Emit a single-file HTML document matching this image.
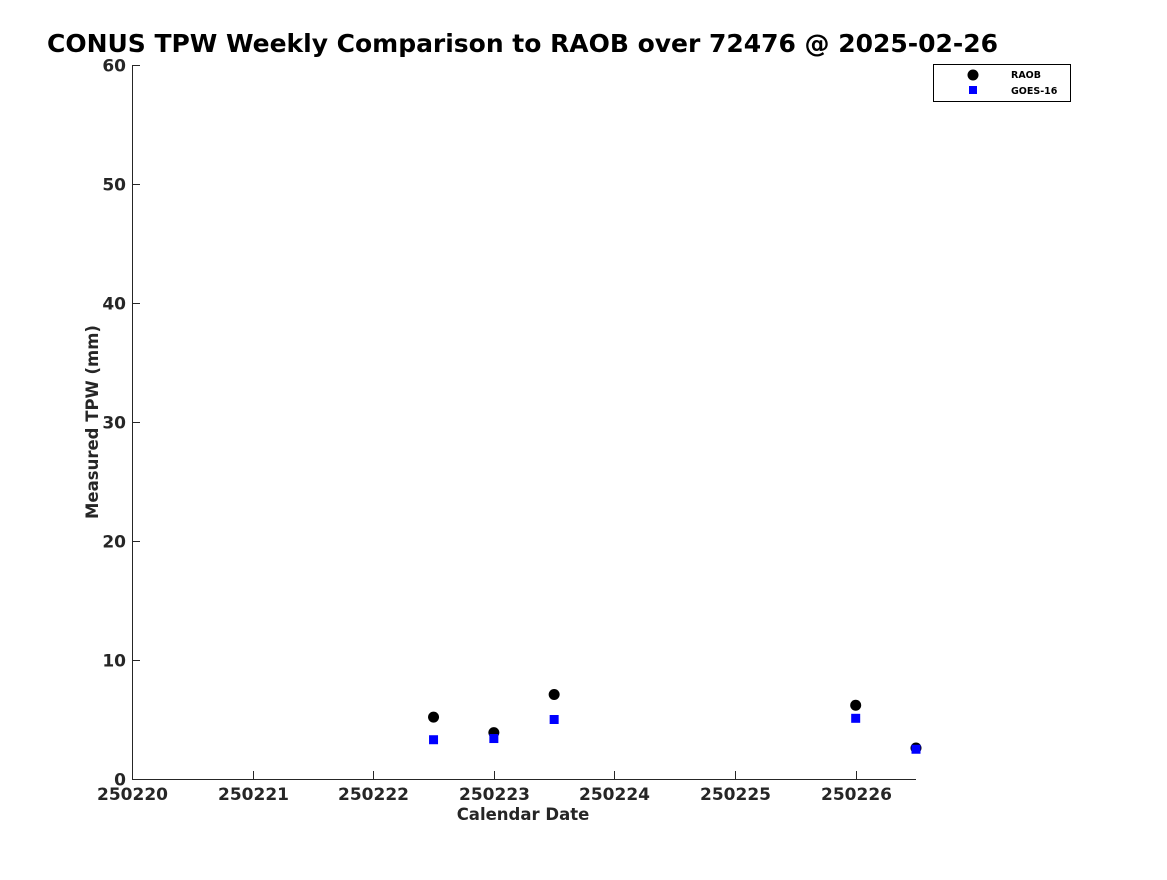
<!DOCTYPE html>
<html><head><meta charset="utf-8"><style>
body{margin:0;background:#fff;}
svg text{font-family:"DejaVu Sans","Liberation Sans",sans-serif;font-weight:bold;fill:#262626;}
</style></head><body>
<svg width="1167" height="875" xmlns="http://www.w3.org/2000/svg">
<rect width="1167" height="875" fill="#fff"/>
<text x="47" y="52" font-size="25" textLength="951" style="fill:#000">CONUS TPW Weekly Comparison to RAOB over 72476 @ 2025-02-26</text>
<g id="axes"></g>
<g id="marks"></g>
<g>
<rect x="933.5" y="64.5" width="137" height="37" fill="#fff" stroke="#000" stroke-width="1"/>
<circle cx="973" cy="75" r="5.5" fill="#000"/>
<rect x="969" y="86" width="8" height="8" fill="#0000ff"/>
<text x="1011" y="78" font-size="9.5" style="fill:#000">RAOB</text>
<text x="1011" y="94" font-size="9.5" style="fill:#000">GOES-16</text>
</g>
<text x="0" y="0" font-size="16.5" text-anchor="middle" transform="translate(98,422) rotate(-90)">Measured TPW (mm)</text>
<text x="523" y="820" font-size="16.5" text-anchor="middle">Calendar Date</text>
</svg>
<script>
const xTicks=[20,21,22,23,24,25,26];
const xTickLabels=["250220","250221","250222","250223","250224","250225","250226"];
const yTicks=[0,10,20,30,40,50,60];
const raobX=[22.5,23.0,23.5,26.0,26.5];
const raobY=[5.2,3.9,7.1,6.2,2.6];
const goesX=[22.5,23.0,23.5,26.0,26.5];
const goesY=[3.3,3.4,5.0,5.1,2.5];
const NS="http://www.w3.org/2000/svg";
const X0=132,X1=916,Y0=779,Y1=65,xmin=20,xmax=26.5,ymin=0,ymax=60;
function sx(v){return X0+(v-xmin)/(xmax-xmin)*(X1-X0);}
function sy(v){return Y0-(v-ymin)/(ymax-ymin)*(Y0-Y1);}
function mk(t,a,p){const e=document.createElementNS(NS,t);for(const k in a)e.setAttribute(k,a[k]);p.appendChild(e);return e;}
const ax=document.getElementById('axes'),mg=document.getElementById('marks');
let l=mk('line',{x1:X0,y1:Y0+0.5,x2:X1,y2:Y0+0.5,stroke:'#262626'},ax);


l=mk('line',{x1:X0+0.5,y1:Y0,x2:X0+0.5,y2:Y1,stroke:'#262626'},ax);


xTicks.forEach((v,i)=>{const x=Math.round(sx(v))+0.5;
mk('line',{x1:x,y1:Y0,x2:x,y2:Y0-8,stroke:'#262626'},ax);
const t=mk('text',{x:x,y:Y0+21,'font-size':17,'text-anchor':'middle'},ax);t.textContent=xTickLabels[i];

});
yTicks.forEach(v=>{const y=Math.round(sy(v))+0.5;
mk('line',{x1:X0,y1:y,x2:X0+8,y2:y,stroke:'#262626'},ax);
const t=mk('text',{x:X0-6,y:y+6,'font-size':17,'text-anchor':'end'},ax);t.textContent=v;

});
raobX.forEach((v,i)=>{const c=mk('circle',{cx:sx(v),cy:sy(raobY[i]),r:5.5,fill:'#000'},mg);

});
goesX.forEach((v,i)=>{const r=mk('rect',{x:sx(v)-4.5,y:sy(goesY[i])-4.5,width:9,height:9,fill:'#0000ff'},mg);

});
</script>
</body></html>
